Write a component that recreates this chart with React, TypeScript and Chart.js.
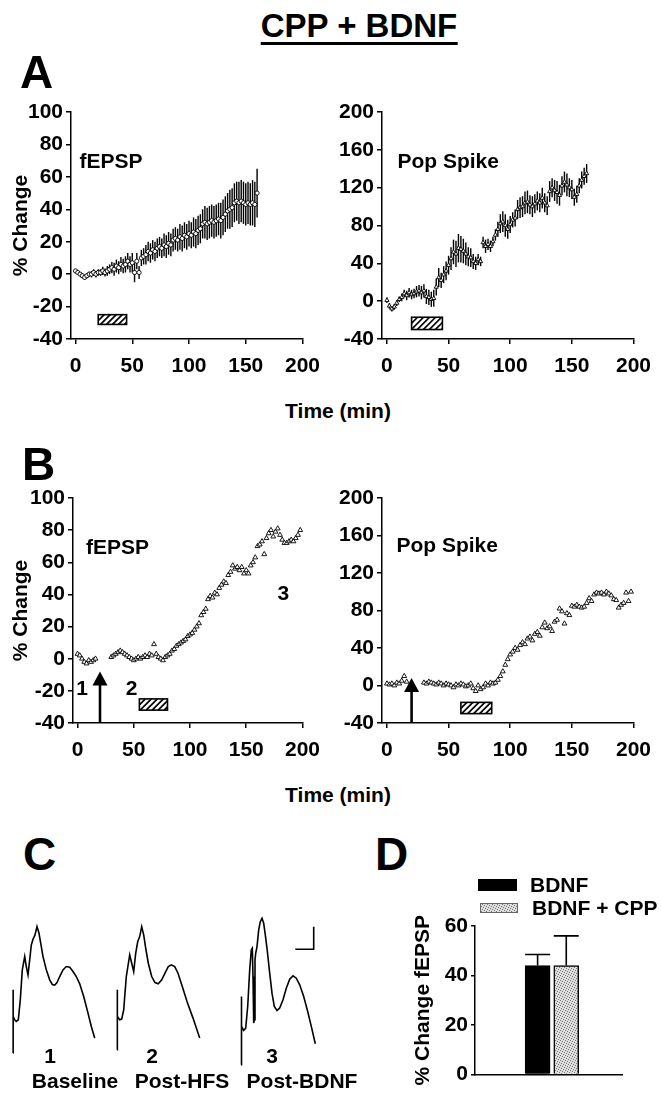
import React, { useEffect, useRef } from "react";
import { Chart, registerables } from "chart.js";

Chart.register(...registerables);

const FONT = "'Liberation Sans', Arial, Helvetica, sans-serif";
Chart.defaults.font.family = FONT;
Chart.defaults.color = "#000";

// ---------------- DATA ----------------
// Panel A, fEPSP (mean ± SEM, % change)
const timeAf = [0,2,4,6,8,10,12,14,16,18,20,22,24,26,28,30,32,34,36,38,40,42,44,46,48,50,52,54,56,58,60,62,64,66,68,70,72,74,76,78,80,82,84,86,88,90,92,94,96,98,100,102,104,106,108,110,112,114,116,118,120,122,124,126,128,130,132,134,136,138,140,142,144,146,148,150,152,154,156,158,160];
const fepspA = [2,1,0,-1,-2,-1,0,0,1,0, 1,1,2,1,2,3,4,3,5,4, 6,5,6,8,6,7,1,8,1,10, 11,12,14,13,15,14,16,17,16,18, 17,19,18,21,22,21,23,22,24,23, 25,24,26,25,27,28,31,32,31,32, 33,32,33,34,33,35,37,39,40,41, 44,45,44,45,44,43,44,43,44,43, 50];
const fepspAErr = [1,1,1,1.5,1.5,1.5,1.5,2,2,2, 2,2,2.5,2.5,3,3,3.5,4,4,4, 4.5,4.5,5,5,5,6,6,5,4,5, 5,6,6,6,6,6,6,6,6,7, 7,7,7,7,7,7,8,8,8,8, 8,8,9,9,9,9,9,10,10,10, 10,10,10,10,11,11,11,11,12,12, 12,12,13,13,13,13,13,13,14,14, 15];

// Panel A, Pop Spike
const timeAp = [0,2,4,6,8,10,12,14,16,18,20,22,24,26,28,30,32,34,36,38,40,42,44,46,48,50,52,54,56,58,60,62,64,66,68,70,72,74,76,78,80,82,84,86,88,90,92,94,96,98,100,102,104,106,108,110,112,114,116,118,120,122,124,126,128,130,132,134,136,138,140,142,144,146,148,150,152,154,156,158,160,162];
const popA = [1,-5,-8,-6,-2,2,4,8,6,9, 7,8,10,11,9,11,5,4,2,3, 15,25,22,28,32,38,45,52,50,56, 55,53,50,47,46,42,40,44,42,62, 58,60,58,63,70,76,82,84,80,76, 81,86,88,97,99,100,104,105,102,100, 103,106,104,109,104,101,116,120,117,115, 112,122,126,123,120,118,110,113,122,128, 132,135];
const popAErr = [3,3,3,3,3,3,4,4,5,5, 5,5,6,6,7,7,8,8,8,9, 9,10,8,9,10,10,12,13,14,15, 14,13,12,10,10,8,7,6,5,6, 7,6,6,5,6,8,10,11,12,10, 9,8,9,10,11,11,12,12,10,11, 10,10,10,11,10,10,11,10,11,12, 11,10,11,12,10,10,9,9,8,9, 9,10];

// Panel B (single experiment)
const timeB = [0,2,4,6,8,10,12,14,16,30,32,34,36,38,40,42,44,46,48,50,52,54,56,58,60,62,64,66,68,70,72,74,76,78,80,82,84,86,88,90,92,94,96,98,100,102,104,106,108,110,112,114,116,118,120,122,124,126,128,130,132,134,136,138,140,142,144,146,148,150,152,154,156,158,160,162,164,166,168,170,172,174,176,178,180,182,184,186,188,190,192,194,196,198];
const fepspB = [3,2,0,-2,-3,-1,-2,-1,0, 1,2,3,4,5,4,3,2,1,0, -1,0,1,0,1,2,1,3,2,9, 3,1,0,-1,1, 2,3,5,6,8,9,10,11,12,14, 15,16,18,20,22,27,29,31,37,39, 38,41,40,44,46,48,47,52,54,58, 56,57,55,57,53,55,53,58,60,63, 70,71,73,65,75,78,80,76,79,81, 77,74,72,72,73,74,73,75,77,80];
const popB = [2,1,2,0,3,2,5,10,4, 3,2,4,3,2,1,3,2,0,2, 1,0,-2,1,0,2,1,-1,0,2, -3,-6,0,-4,-2, 2,0,3,2,3,6,10,15,22,28, 33,36,40,38,43,46,44,50,52,48, 55,57,53,62,67,61,63,58,68,70, 82,79,66,77,75,85,84,86,84,83, 84,88,93,90,97,99,98,99,97,100, 98,96,92,91,83,86,88,99,90,100];

const xTicks = [0, 50, 100, 150, 200];
const yTicksFepsp = [-40, -20, 0, 20, 40, 60, 80, 100];
const yTicksPop = [-40, 0, 40, 80, 120, 160, 200];

// Panel C traces (time in ms, amplitude in mV)
const trace1T = [0,0,0.03,0.17,0.33,0.53,0.73,0.93,1.17,1.33,1.5,1.67,1.83,2.0,2.2,2.4,2.6,2.8,3.0,3.33,3.67,3.93,4.17,4.4,4.67,5.0,5.33,5.67,6.0,6.33,6.67,7.07,7.5,7.83,8.17];
const trace1V = [0,1.9,1.1,1.0,0.95,1.0,1.6,2.5,2.9,2.6,2.35,2.8,3.25,3.42,3.55,3.8,3.6,3.25,2.9,2.5,2.2,2.06,2.04,2.12,2.3,2.5,2.6,2.58,2.45,2.3,2.08,1.7,1.2,0.8,0.45];
const trace2T = [0,0,0.07,0.27,0.47,0.67,0.93,1.27,1.47,1.67,1.87,2.07,2.27,2.47,2.67,2.87,3.13,3.47,3.8,4.13,4.47,4.8,5.13,5.43,5.77,6.1,6.53,7.0,7.6,8.27];
const trace2V = [0.1,1.9,1.1,1.0,1.02,1.3,2.3,2.95,2.7,2.45,3.0,3.35,3.5,3.8,3.55,3.15,2.7,2.3,2.12,2.08,2.2,2.4,2.6,2.65,2.6,2.4,2.0,1.55,1.05,0.45];
const trace3T = [0,0,0.1,0.27,0.47,0.67,0.87,1.03,1.13,1.2,1.27,1.33,1.4,1.47,1.6,1.77,1.93,2.1,2.27,2.43,2.6,2.87,3.1,3.33,3.6,3.87,4.2,4.53,4.87,5.2,5.53,5.87,6.27,6.67,7.07,7.43];
const trace3V = [-0.35,1.7,0.8,0.68,0.75,1.4,2.5,3.1,3.15,2.3,0.9,1.0,2.8,3.0,3.2,3.7,3.95,4.05,3.9,3.55,3.15,2.4,1.8,1.4,1.28,1.35,1.6,1.95,2.22,2.32,2.25,2.05,1.7,1.25,0.75,0.28];
const scaleBarT = [5.43, 7.27, 7.27];
const scaleBarV = [3.12, 3.12, 3.8];

// Panel D
const categoriesD = ["BDNF", "BDNF + CPP"];
const meansD = [44, 44];
const semD = [4.5, 12];
const yTicksD = [0, 20, 40, 60];

// ---------------- HELPERS ----------------
const pts = (xs: number[], ys: number[]) => xs.map((x, i) => ({ x, y: ys[i] }));

const errPlugin = {
  id: "errbars",
  beforeDatasetsDraw(chart: any) {
    const { ctx, scales } = chart;
    const x = scales.x, y = scales.y;
    chart.data.datasets.forEach((ds: any) => {
      if (!ds.errors) return;
      ctx.save();
      ctx.strokeStyle = "#000";
      ctx.lineWidth = 1.4;
      ds.data.forEach((p: any, i: number) => {
        const e = ds.errors[i];
        const px = x.getPixelForValue(p.x);
        ctx.beginPath();
        ctx.moveTo(px, y.getPixelForValue(p.y - e));
        ctx.lineTo(px, y.getPixelForValue(p.y + e));
        ctx.stroke();
      });
      ctx.restore();
    });
  },
};

const marksPlugin = {
  id: "marks",
  afterDatasetsDraw(chart: any, _args: any, opts: any) {
    const { ctx, scales } = chart;
    const x = scales.x, y = scales.y;
    (opts.boxes || []).forEach((b: any) => {
      const x0 = x.getPixelForValue(b.x0), x1 = x.getPixelForValue(b.x1);
      const y0 = y.getPixelForValue(b.y0), y1 = y.getPixelForValue(b.y1);
      const l = Math.min(x0, x1), t = Math.min(y0, y1);
      const w = Math.abs(x1 - x0), h = Math.abs(y1 - y0);
      ctx.save();
      ctx.beginPath();
      ctx.rect(l, t, w, h);
      ctx.fillStyle = "#fff";
      ctx.fill();
      ctx.clip();
      ctx.strokeStyle = "#000";
      ctx.lineWidth = 1.7;
      ctx.beginPath();
      for (let k = -h; k < w + h; k += 6) {
        ctx.moveTo(l + k, t + h);
        ctx.lineTo(l + k + h, t);
      }
      ctx.stroke();
      ctx.restore();
      ctx.save();
      ctx.strokeStyle = "#000";
      ctx.lineWidth = 1.6;
      ctx.strokeRect(l, t, w, h);
      ctx.restore();
    });
    (opts.arrows || []).forEach((a: any) => {
      const px = x.getPixelForValue(a.x);
      const yb = y.getPixelForValue(a.y0);
      const yt = y.getPixelForValue(a.tip);
      const hh = 14, hw = 7.5;
      ctx.save();
      ctx.strokeStyle = "#000";
      ctx.fillStyle = "#000";
      ctx.lineWidth = 2.6;
      ctx.beginPath();
      ctx.moveTo(px, yb);
      ctx.lineTo(px, yt + hh - 1);
      ctx.stroke();
      ctx.beginPath();
      ctx.moveTo(px, yt);
      ctx.lineTo(px - hw, yt + hh);
      ctx.lineTo(px + hw, yt + hh);
      ctx.closePath();
      ctx.fill();
      ctx.restore();
    });
    (opts.texts || []).forEach((t: any) => {
      ctx.save();
      ctx.fillStyle = "#000";
      ctx.font = `bold ${t.size || 21}px ${FONT}`;
      ctx.textAlign = t.align || "left";
      ctx.textBaseline = "middle";
      ctx.fillText(t.text, x.getPixelForValue(t.x), y.getPixelForValue(t.y));
      ctx.restore();
    });
  },
};

const barErrPlugin = {
  id: "barerr",
  afterDatasetsDraw(chart: any) {
    const { ctx, scales } = chart;
    const y = scales.y;
    chart.data.datasets.forEach((ds: any, di: number) => {
      const meta = chart.getDatasetMeta(di);
      meta.data.forEach((el: any, j: number) => {
        const top = y.getPixelForValue(ds.data[j].y + ds.errors[j]);
        const half = el.width / 2;
        ctx.save();
        ctx.strokeStyle = "#000";
        ctx.lineWidth = 1.6;
        ctx.beginPath();
        ctx.moveTo(el.x, el.y);
        ctx.lineTo(el.x, top);
        ctx.moveTo(el.x - half, top);
        ctx.lineTo(el.x + half, top);
        ctx.stroke();
        ctx.restore();
      });
    });
  },
};

function yAxis(min: number, max: number, ticks: number[], width: number, title?: string, titlePad = 9) {
  return {
    type: "linear",
    min,
    max,
    afterBuildTicks: (s: any) => {
      s.ticks = ticks.map((v) => ({ value: v }));
    },
    afterFit: (s: any) => {
      s.width = width;
    },
    grid: { display: true, drawOnChartArea: false, drawTicks: true, tickLength: 5, color: "#000", lineWidth: 1.5 },
    border: { display: true, color: "#000", width: 1.5 },
    ticks: { font: { size: 21, weight: "bold" }, color: "#000", padding: 3, autoSkip: false },
    title: title
      ? { display: true, text: title, color: "#000", font: { size: 21, weight: "bold" }, padding: { top: titlePad, bottom: 0 } }
      : { display: false },
  };
}

function xyConfig(p: any) {
  return {
    type: "scatter",
    data: { datasets: p.datasets },
    options: {
      animation: false,
      responsive: false,
      events: [],
      layout: { padding: { top: p.padTop, right: p.padRight, left: 0, bottom: 0 } },
      plugins: { legend: { display: false }, tooltip: { enabled: false }, marks: p.marks },
      scales: {
        x: {
          type: "linear",
          min: -4,
          max: 200,
          afterBuildTicks: (s: any) => {
            s.ticks = xTicks.map((v) => ({ value: v }));
          },
          afterFit: (s: any) => {
            s.height = 45;
          },
          grid: { display: true, drawOnChartArea: false, drawTicks: true, tickLength: 5, color: "#000", lineWidth: 1.5 },
          border: { display: true, color: "#000", width: 1.5 },
          ticks: { font: { size: 21, weight: "bold" }, color: "#000", padding: 10, maxRotation: 0, autoSkip: false },
        },
        y: yAxis(p.yMin, p.yMax, p.yTicks, p.yWidth, p.yTitle),
      },
    },
    plugins: [errPlugin, marksPlugin],
  };
}

function scatterDs(xs: number[], ys: number[], style: string, r: number, errors?: number[]) {
  return {
    data: pts(xs, ys),
    errors,
    pointStyle: style,
    pointRadius: r,
    pointBackgroundColor: "#fff",
    pointBorderColor: "#000",
    pointBorderWidth: 0.9,
    clip: false,
  };
}

function traceConfig(lines: { t: number[]; v: number[] }[]) {
  return {
    type: "line",
    data: {
      datasets: lines.map((l) => ({
        data: pts(l.t, l.v),
        borderColor: "#000",
        borderWidth: 1.6,
        pointRadius: 0,
        tension: 0,
        fill: false,
        clip: false,
      })),
    },
    options: {
      animation: false,
      responsive: false,
      events: [],
      layout: { padding: 0 },
      plugins: { legend: { display: false }, tooltip: { enabled: false } },
      scales: {
        x: { type: "linear", min: -0.3, max: 9, display: false },
        y: { type: "linear", min: -0.6, max: 4.3, display: false },
      },
    },
  };
}

function stippleCanvas() {
  const c = document.createElement("canvas");
  c.width = 5;
  c.height = 5;
  const g = c.getContext("2d")!;
  g.fillStyle = "#dcdcdc";
  g.fillRect(0, 0, 5, 5);
  g.fillStyle = "#7c7c7c";
  [[0, 0], [2, 1], [4, 2], [1, 3], [3, 4]].forEach(([a, b]) => g.fillRect(a, b, 1, 1));
  return c;
}

function stipple() {
  const c = stippleCanvas();
  return (c.getContext("2d") as CanvasRenderingContext2D).createPattern(c, "repeat");
}

function barConfig() {
  return {
    type: "bar",
    data: {
      datasets: categoriesD.map((name, i) => ({
        label: name,
        data: [{ x: i + 1, y: meansD[i] }],
        errors: [semD[i]],
        backgroundColor: i === 0 ? "#000" : stipple(),
        borderColor: "#000",
        borderWidth: 1.5,
        barThickness: 25,
        grouped: false,
      })),
    },
    options: {
      animation: false,
      responsive: false,
      events: [],
      layout: { padding: { top: 21, right: 39, left: 0, bottom: 0 } },
      plugins: { legend: { display: false }, tooltip: { enabled: false } },
      scales: {
        x: {
          type: "linear",
          min: -0.33,
          max: 3.09,
          ticks: { display: false },
          grid: { display: true, drawOnChartArea: false, drawTicks: false, color: "#000" },
          border: { display: true, color: "#000", width: 1.5 },
          afterFit: (s: any) => {
            s.height = 10;
          },
        },
        y: { ...yAxis(0, 60, yTicksD, 70, "% Change fEPSP", 6), grid: { display: true, drawOnChartArea: false, drawTicks: true, tickLength: 4, color: "#000", lineWidth: 1.5 } },
      },
    },
    plugins: [barErrPlugin],
  };
}

function ChartCanvas({ left, top, width, height, build }: any) {
  const ref = useRef<HTMLCanvasElement>(null);
  useEffect(() => {
    const chart = new Chart(ref.current as HTMLCanvasElement, build());
    return () => chart.destroy();
  }, []);
  return (
    <canvas
      ref={ref}
      width={width}
      height={height}
      style={{ position: "absolute", left, top, width, height }}
    />
  );
}

function StippleSwatch({ left, top, width, height }: any) {
  const ref = useRef<HTMLCanvasElement>(null);
  useEffect(() => {
    const c = ref.current as HTMLCanvasElement;
    const g = c.getContext("2d") as CanvasRenderingContext2D;
    g.fillStyle = g.createPattern(stippleCanvas(), "repeat") as CanvasPattern;
    g.fillRect(0, 0, width, height);
    g.strokeStyle = "#666";
    g.lineWidth = 1;
    g.strokeRect(0.5, 0.5, width - 1, height - 1);
  }, []);
  return <canvas ref={ref} width={width} height={height} style={{ position: "absolute", left, top, width, height }} />;
}

function Txt({ x, base, size = 21, align = "left", children, style }: any) {
  const top = base - 0.8465 * size;
  const transform = align === "center" ? "translateX(-50%)" : align === "right" ? "translateX(-100%)" : undefined;
  return (
    <div
      style={{
        position: "absolute",
        left: x,
        top,
        fontFamily: FONT,
        fontWeight: "bold",
        fontSize: size,
        lineHeight: `${size}px`,
        whiteSpace: "nowrap",
        transform,
        color: "#000",
        ...style,
      }}
    >
      {children}
    </div>
  );
}

export default function App() {
  const buildAf = () =>
    xyConfig({
      datasets: [scatterDs(timeAf, fepspA, "circle", 2.1, fepspAErr)],
      yMin: -40, yMax: 100, yTicks: yTicksFepsp, yWidth: 71, yTitle: "% Change",
      padTop: 22, padRight: 21,
      marks: { boxes: [{ x0: 20, x1: 45, y0: -25, y1: -31 }], texts: [{ x: 3.5, y: 69, text: "fEPSP" }] },
    });
  const buildAp = () =>
    xyConfig({
      datasets: [scatterDs(timeAp, popA, "triangle", 2.4, popAErr)],
      yMin: -40, yMax: 200, yTicks: yTicksPop, yWidth: 71,
      padTop: 22, padRight: 15,
      marks: { boxes: [{ x0: 20, x1: 45, y0: -17, y1: -30 }], texts: [{ x: 8.5, y: 147, text: "Pop Spike" }] },
    });
  const buildBf = () =>
    xyConfig({
      datasets: [scatterDs(timeB, fepspB, "triangle", 2.8)],
      yMin: -40, yMax: 100, yTicks: yTicksFepsp, yWidth: 73, yTitle: "% Change",
      padTop: 22, padRight: 20,
      marks: {
        boxes: [{ x0: 55, x1: 80, y0: -25, y1: -32 }],
        arrows: [{ x: 20, y0: -40, tip: -8 }],
        texts: [
          { x: 4, y: -19, text: "1", align: "center" },
          { x: 7.5, y: 69, text: "fEPSP" },
          { x: 48, y: -19, text: "2", align: "center" },
          { x: 183, y: 40, text: "3", align: "center" },
        ],
      },
    });
  const buildBp = () =>
    xyConfig({
      datasets: [scatterDs(timeB, popB, "triangle", 2.8)],
      yMin: -40, yMax: 200, yTicks: yTicksPop, yWidth: 71,
      padTop: 22, padRight: 15,
      marks: {
        boxes: [{ x0: 60, x1: 85, y0: -18, y1: -30 }],
        arrows: [{ x: 20, y0: -40, tip: 8 }],
        texts: [{ x: 7.7, y: 149, text: "Pop Spike" }],
      },
    });

  return (
    <div style={{ position: "absolute", left: 0, top: 0, width: 661, height: 1097, background: "#fff", overflow: "hidden" }}>
      <ChartCanvas left={0} top={90} width={330} height={294} build={buildAf} />
      <ChartCanvas left={311} top={90} width={350} height={294} build={buildAp} />
      <ChartCanvas left={0} top={476} width={330} height={292} build={buildBf} />
      <ChartCanvas left={311} top={476} width={350} height={292} build={buildBp} />
      <ChartCanvas left={10.3} top={910} width={93} height={163} build={() => traceConfig([{ t: trace1T, v: trace1V }])} />
      <ChartCanvas left={114.3} top={910} width={93} height={163} build={() => traceConfig([{ t: trace2T, v: trace2V }])} />
      <ChartCanvas left={237.7} top={910} width={93} height={163} build={() => traceConfig([{ t: trace3T, v: trace3V }, { t: scaleBarT, v: scaleBarV }])} />
      <ChartCanvas left={405} top={905} width={256} height={185} build={barConfig} />

      <Txt x={359} base={36.6} size={33} align="center">
        <span style={{ display: "inline-block", borderBottom: "3.5px solid #000", lineHeight: "33px" }}>CPP + BDNF</span>
      </Txt>
      <Txt x={20} base={88} size={46}>A</Txt>
      <Txt x={22} base={480} size={46}>B</Txt>
      <Txt x={23} base={870} size={46}>C</Txt>
      <Txt x={375} base={870} size={46}>D</Txt>

      <Txt x={338} base={418} align="center">Time (min)</Txt>
      <Txt x={338} base={802} align="center">Time (min)</Txt>

      <Txt x={50} base={1063} align="center">1</Txt>
      <Txt x={152} base={1063} align="center">2</Txt>
      <Txt x={272} base={1063} align="center">3</Txt>
      <Txt x={75} base={1088} align="center">Baseline</Txt>
      <Txt x={182} base={1088} align="center">Post-HFS</Txt>
      <Txt x={302} base={1088} align="center">Post-BDNF</Txt>

      <div style={{ position: "absolute", left: 478, top: 879, width: 39, height: 12, background: "#000" }} />
      <StippleSwatch left={480} top={903} width={38} height={10} />
      <Txt x={530} base={892} size={21}>BDNF</Txt>
      <Txt x={532} base={915} size={21}>BDNF + CPP</Txt>
    </div>
  );
}
